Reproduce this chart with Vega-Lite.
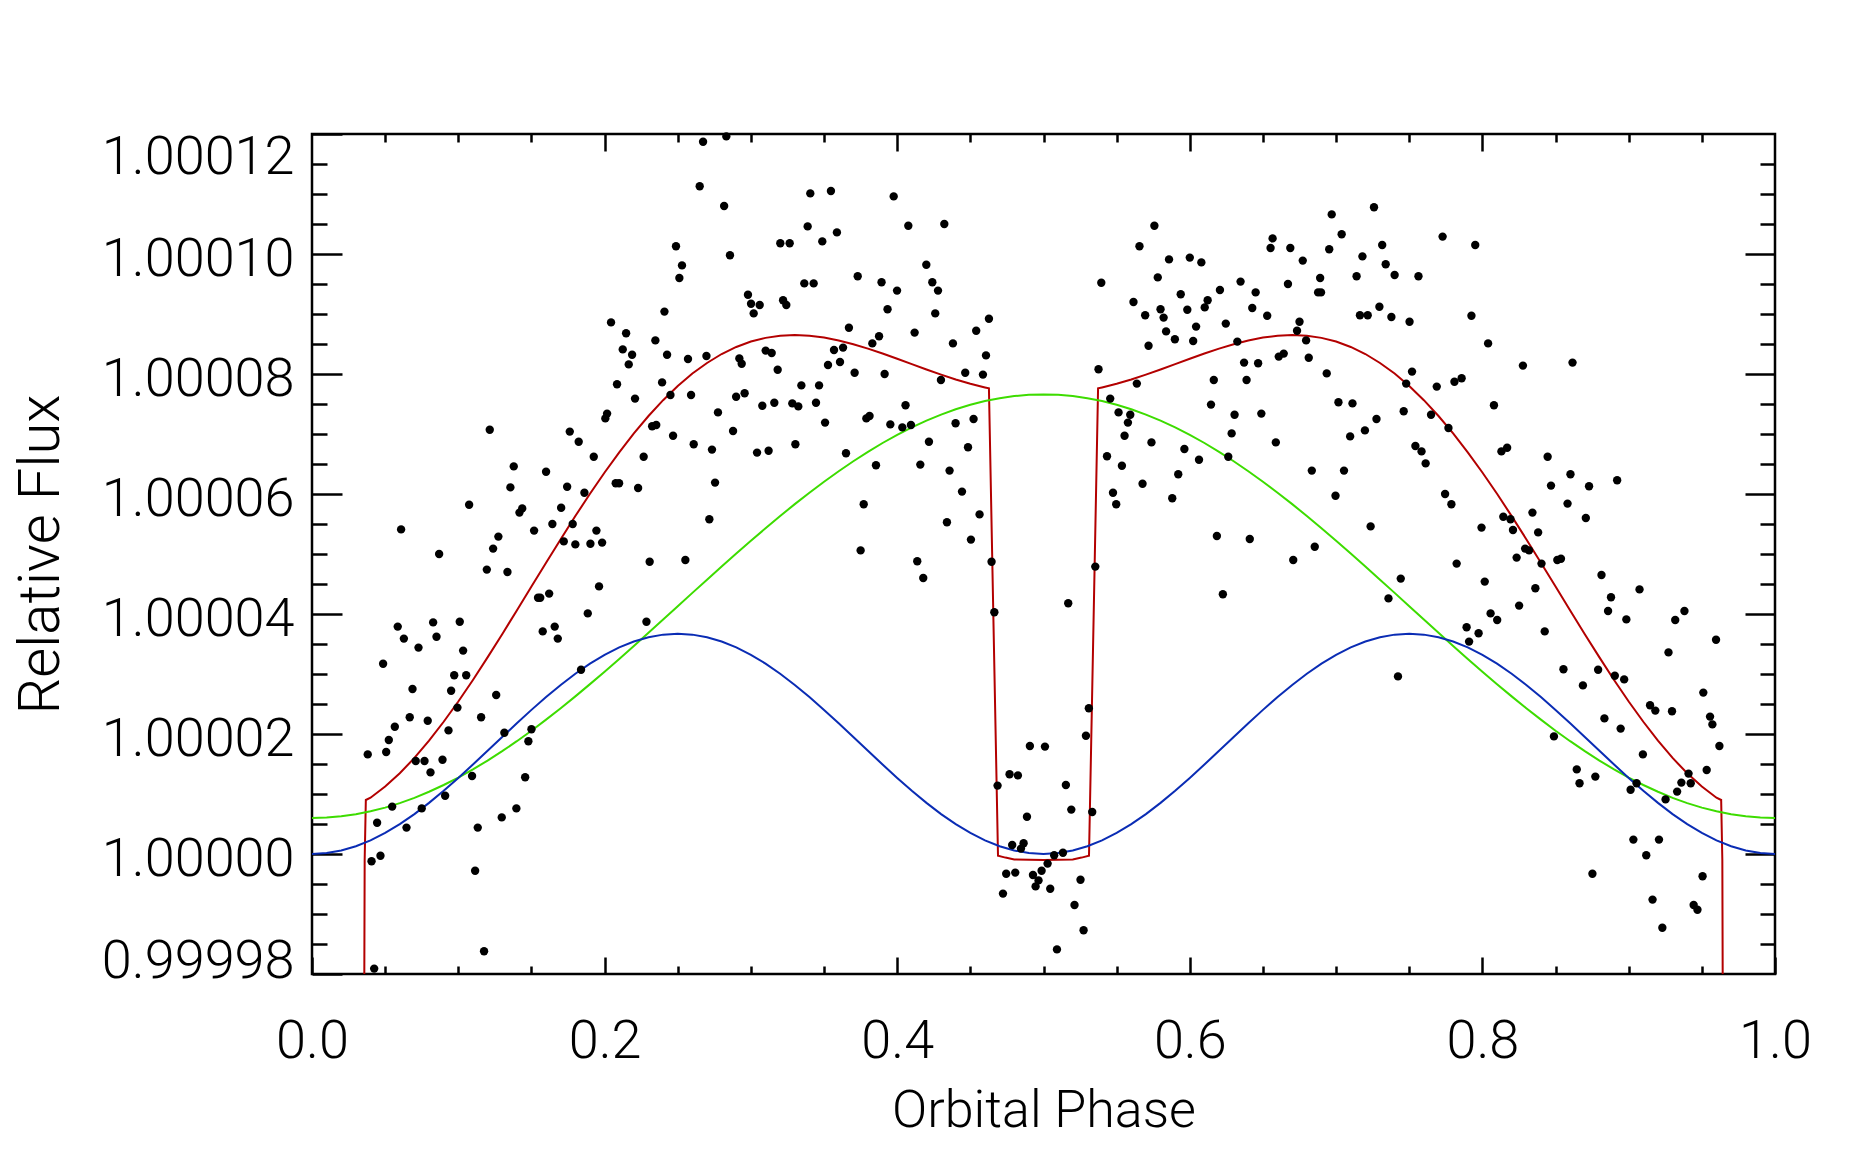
{
"$schema": "https://vega.github.io/schema/vega-lite/v6.json",
"width": 1463,
"height": 840,
"autosize": {"type": "none"},
"padding": {"left": 312, "top": 134, "right": 83, "bottom": 180},
"background": "white",
"config": {
  "view": {"stroke": "black", "strokeWidth": 2.5},
  "axis": {"domain": false, "grid": false, "tickColor": "black", "tickWidth": 2.5, "labelColor": "black", "labelFont": "Roboto", "labelFontWeight": 300, "labelFontSize": 54, "labelLimit": 0, "titleFont": "Roboto", "titleFontWeight": 300, "titleColor": "black", "titleLimit": 0}
},
"datasets": {
"pts": [
{"phase":0.1215,"flux":1.0000707},{"phase":0.1379,"flux":1.0000646},{"phase":0.1356,"flux":1.0000611},{"phase":0.16,"flux":1.0000637},{"phase":0.1744,"flux":1.0000612},{"phase":0.1762,"flux":1.0000704},{"phase":0.1823,"flux":1.0000687},{"phase":0.1926,"flux":1.0000662},{"phase":0.1862,"flux":1.0000602},{"phase":0.2044,"flux":1.0000886},{"phase":0.2147,"flux":1.0000868},{"phase":0.2124,"flux":1.0000841},{"phase":0.2188,"flux":1.0000832},{"phase":0.2165,"flux":1.0000816},{"phase":0.2085,"flux":1.0000783},{"phase":0.2208,"flux":1.0000759},{"phase":0.2017,"flux":1.0000734},{"phase":0.2005,"flux":1.0000726},{"phase":0.2076,"flux":1.0000618},{"phase":0.2099,"flux":1.0000618},{"phase":0.2229,"flux":1.000061},{"phase":0.2267,"flux":1.0000662},{"phase":0.2347,"flux":1.0000856},{"phase":0.2409,"flux":1.0000904},{"phase":0.2488,"flux":1.0001013},{"phase":0.2529,"flux":1.0000981},{"phase":0.2511,"flux":1.000096},{"phase":0.2427,"flux":1.0000832},{"phase":0.2393,"flux":1.0000786},{"phase":0.245,"flux":1.0000765},{"phase":0.257,"flux":1.0000825},{"phase":0.2591,"flux":1.0000765},{"phase":0.2325,"flux":1.0000713},{"phase":0.2353,"flux":1.0000715},{"phase":0.2468,"flux":1.0000697},{"phase":0.2609,"flux":1.0000683},{"phase":0.265,"flux":1.0001113},
{"phase":0.1074,"flux":1.0000582},{"phase":0.0609,"flux":1.0000541},{"phase":0.0869,"flux":1.00005},{"phase":0.1418,"flux":1.0000569},{"phase":0.1437,"flux":1.0000576},{"phase":0.1518,"flux":1.0000539},{"phase":0.1643,"flux":1.000055},{"phase":0.1703,"flux":1.0000577},{"phase":0.1782,"flux":1.000055},{"phase":0.1721,"flux":1.0000521},{"phase":0.18,"flux":1.0000516},{"phase":0.1903,"flux":1.0000517},{"phase":0.1944,"flux":1.0000539},{"phase":0.1983,"flux":1.0000519},{"phase":0.1962,"flux":1.0000446},{"phase":0.1885,"flux":1.0000401},{"phase":0.2308,"flux":1.0000487},{"phase":0.2552,"flux":1.000049},{"phase":0.2286,"flux":1.0000387},{"phase":0.1839,"flux":1.0000307},{"phase":0.1621,"flux":1.0000434},{"phase":0.1545,"flux":1.0000427},{"phase":0.156,"flux":1.0000427},{"phase":0.1577,"flux":1.0000371},{"phase":0.1659,"flux":1.0000379},{"phase":0.168,"flux":1.0000359},{"phase":0.1274,"flux":1.0000529},{"phase":0.1238,"flux":1.0000509},{"phase":0.1195,"flux":1.0000474},{"phase":0.1336,"flux":1.000047},{"phase":0.0586,"flux":1.0000379},{"phase":0.0628,"flux":1.0000359},{"phase":0.0486,"flux":1.0000317},{"phase":0.0728,"flux":1.0000344},{"phase":0.0828,"flux":1.0000386},{"phase":0.0851,"flux":1.0000362},{"phase":0.101,"flux":1.0000387},{"phase":0.1033,"flux":1.0000339},{"phase":0.0972,"flux":1.0000298},{"phase":0.1054,"flux":1.0000298},{"phase":0.0951,"flux":1.0000272},{"phase":0.0687,"flux":1.0000275},{"phase":0.0994,"flux":1.0000244},{"phase":0.0668,"flux":1.0000228},{"phase":0.0791,"flux":1.0000222},{"phase":0.0566,"flux":1.0000212},{"phase":0.0525,"flux":1.000019},{"phase":0.0507,"flux":1.000017},{"phase":0.0381,"flux":1.0000166},{"phase":0.0709,"flux":1.0000155},{"phase":0.0769,"flux":1.0000155},{"phase":0.081,"flux":1.0000136},{"phase":0.0892,"flux":1.0000157},{"phase":0.0933,"flux":1.0000206},{"phase":0.1156,"flux":1.0000228},{"phase":0.1259,"flux":1.0000265},{"phase":0.1315,"flux":1.0000202},{"phase":0.15,"flux":1.0000208},{"phase":0.1479,"flux":1.0000188},{"phase":0.1457,"flux":1.0000128},{"phase":0.1397,"flux":1.0000076},{"phase":0.1297,"flux":1.0000061},{"phase":0.1133,"flux":1.0000044},{"phase":0.1094,"flux":1.000013},{"phase":0.1115,"flux":0.9999972},{"phase":0.1176,"flux":0.9999838},{"phase":0.091,"flux":1.0000097},{"phase":0.075,"flux":1.0000076},{"phase":0.0548,"flux":1.0000079},{"phase":0.0646,"flux":1.0000044},{"phase":0.0445,"flux":1.0000052},{"phase":0.0407,"flux":0.9999988},{"phase":0.0468,"flux":0.9999997},{"phase":0.0425,"flux":0.9999809},
{"phase":0.2673,"flux":1.0001187},{"phase":0.2832,"flux":1.0001196},{"phase":0.2817,"flux":1.000108},{"phase":0.2857,"flux":1.0000998},{"phase":0.3406,"flux":1.0001101},{"phase":0.3547,"flux":1.0001105},{"phase":0.3976,"flux":1.0001096},{"phase":0.3388,"flux":1.0001046},{"phase":0.3588,"flux":1.0001036},{"phase":0.3201,"flux":1.0001018},{"phase":0.3265,"flux":1.0001018},{"phase":0.3488,"flux":1.0001021},{"phase":0.4076,"flux":1.0001047},{"phase":0.4322,"flux":1.000105},{"phase":0.4199,"flux":1.0000982},{"phase":0.373,"flux":1.0000963},{"phase":0.3893,"flux":1.0000953},{"phase":0.3999,"flux":1.0000939},{"phase":0.3365,"flux":1.0000951},{"phase":0.3429,"flux":1.0000951},{"phase":0.298,"flux":1.0000932},{"phase":0.3001,"flux":1.0000917},{"phase":0.306,"flux":1.0000915},{"phase":0.3019,"flux":1.0000901},{"phase":0.322,"flux":1.0000923},{"phase":0.3242,"flux":1.0000915},{"phase":0.3934,"flux":1.0000908},{"phase":0.424,"flux":1.0000953},{"phase":0.4279,"flux":1.0000939},{"phase":0.426,"flux":1.0000901},{"phase":0.367,"flux":1.0000877},{"phase":0.3876,"flux":1.0000863},{"phase":0.383,"flux":1.0000851},{"phase":0.4119,"flux":1.0000869},{"phase":0.4381,"flux":1.0000851},{"phase":0.454,"flux":1.0000872},{"phase":0.4627,"flux":1.0000892},{"phase":0.4607,"flux":1.0000831},{"phase":0.4586,"flux":1.0000799},{"phase":0.4465,"flux":1.0000802},{"phase":0.4299,"flux":1.000079},{"phase":0.3914,"flux":1.00008},{"phase":0.3709,"flux":1.0000802},{"phase":0.3568,"flux":1.000084},{"phase":0.363,"flux":1.0000844},{"phase":0.3527,"flux":1.0000815},{"phase":0.3609,"flux":1.000082},{"phase":0.3101,"flux":1.0000839},{"phase":0.3142,"flux":1.0000835},{"phase":0.3183,"flux":1.0000807},{"phase":0.2921,"flux":1.0000826},{"phase":0.2937,"flux":1.0000817},{"phase":0.2696,"flux":1.000083},{"phase":0.3345,"flux":1.0000781},{"phase":0.3466,"flux":1.0000781},{"phase":0.2899,"flux":1.0000762},{"phase":0.2957,"flux":1.0000768},{"phase":0.3078,"flux":1.0000747},{"phase":0.316,"flux":1.0000752},{"phase":0.3283,"flux":1.0000751},{"phase":0.3324,"flux":1.0000746},{"phase":0.3445,"flux":1.0000752},{"phase":0.2775,"flux":1.0000736},{"phase":0.2878,"flux":1.0000705},{"phase":0.3507,"flux":1.0000719},{"phase":0.3789,"flux":1.0000726},{"phase":0.3811,"flux":1.000073},{"phase":0.3953,"flux":1.0000716},{"phase":0.4035,"flux":1.0000711},{"phase":0.4094,"flux":1.0000715},{"phase":0.4057,"flux":1.0000748},{"phase":0.4399,"flux":1.0000718},{"phase":0.4522,"flux":1.0000725},{"phase":0.4217,"flux":1.0000687},{"phase":0.2734,"flux":1.0000674},{"phase":0.3042,"flux":1.0000669},{"phase":0.3121,"flux":1.0000672},{"phase":0.3304,"flux":1.0000683},{"phase":0.365,"flux":1.0000668},{"phase":0.3855,"flux":1.0000648},{"phase":0.4158,"flux":1.0000649},{"phase":0.4358,"flux":1.0000639},{"phase":0.4484,"flux":1.0000678},{"phase":0.2755,"flux":1.0000619},{"phase":0.4443,"flux":1.0000604},{"phase":0.5395,"flux":1.0000952},{"phase":0.5376,"flux":1.0000808},{"phase":0.5456,"flux":1.0000759},{"phase":0.5513,"flux":1.0000736},{"phase":0.5593,"flux":1.0000732},{"phase":0.5577,"flux":1.0000719},{"phase":0.5554,"flux":1.0000697},{"phase":0.5615,"flux":1.000092},{"phase":0.5656,"flux":1.0001013},{"phase":0.5695,"flux":1.0000898},{"phase":0.5718,"flux":1.0000847},{"phase":0.5638,"flux":1.0000784},{"phase":0.5434,"flux":1.0000663},{"phase":0.5536,"flux":1.0000647},{"phase":0.5475,"flux":1.0000602},{"phase":0.5677,"flux":1.0000617},
{"phase":0.2716,"flux":1.0000558},{"phase":0.3771,"flux":1.0000583},{"phase":0.375,"flux":1.0000506},{"phase":0.434,"flux":1.0000553},{"phase":0.4563,"flux":1.0000566},{"phase":0.4504,"flux":1.0000524},{"phase":0.4137,"flux":1.0000488},{"phase":0.4178,"flux":1.000046},{"phase":0.4645,"flux":1.0000487},{"phase":0.4664,"flux":1.0000403},{"phase":0.5354,"flux":1.0000479},{"phase":0.5169,"flux":1.0000418},{"phase":0.5497,"flux":1.0000583},{"phase":0.531,"flux":1.0000243},{"phase":0.529,"flux":1.0000197},{"phase":0.4907,"flux":1.000018},{"phase":0.501,"flux":1.0000179},{"phase":0.4768,"flux":1.0000133},{"phase":0.4825,"flux":1.0000131},{"phase":0.4686,"flux":1.0000114},{"phase":0.5153,"flux":1.0000115},{"phase":0.4887,"flux":1.0000062},{"phase":0.519,"flux":1.0000074},{"phase":0.5333,"flux":1.000007},{"phase":0.4786,"flux":1.0000015},{"phase":0.4864,"flux":1.0000018},{"phase":0.4846,"flux":1.0000009},{"phase":0.5073,"flux":0.9999998},{"phase":0.5133,"flux":1.0000002},{"phase":0.5028,"flux":0.9999984},{"phase":0.4745,"flux":0.9999967},{"phase":0.4807,"flux":0.9999969},{"phase":0.4928,"flux":0.9999965},{"phase":0.4987,"flux":0.9999972},{"phase":0.4966,"flux":0.9999956},{"phase":0.4946,"flux":0.9999946},{"phase":0.5046,"flux":0.9999942},{"phase":0.5253,"flux":0.9999957},{"phase":0.4723,"flux":0.9999934},{"phase":0.5212,"flux":0.9999915},{"phase":0.5274,"flux":0.9999873},{"phase":0.5092,"flux":0.9999841},
{"phase":0.5758,"flux":1.0001047},{"phase":0.5781,"flux":1.0000961},{"phase":0.5858,"flux":1.0000991},{"phase":0.58,"flux":1.0000908},{"phase":0.5821,"flux":1.0000894},{"phase":0.5838,"flux":1.0000871},{"phase":0.5898,"flux":1.0000858},{"phase":0.6,"flux":1.0000994},{"phase":0.6079,"flux":1.0000986},{"phase":0.5938,"flux":1.0000933},{"phase":0.5983,"flux":1.0000907},{"phase":0.6023,"flux":1.0000855},{"phase":0.6043,"flux":1.0000879},{"phase":0.6102,"flux":1.0000911},{"phase":0.6122,"flux":1.0000923},{"phase":0.6206,"flux":1.000094},{"phase":0.6246,"flux":1.0000884},{"phase":0.6347,"flux":1.0000954},{"phase":0.6325,"flux":1.0000854},{"phase":0.645,"flux":1.0000936},{"phase":0.6427,"flux":1.000091},{"phase":0.6529,"flux":1.0000897},{"phase":0.6371,"flux":1.0000819},{"phase":0.6467,"flux":1.0000818},{"phase":0.6388,"flux":1.000079},{"phase":0.6552,"flux":1.000101},{"phase":0.6566,"flux":1.0001026},{"phase":0.6687,"flux":1.000101},{"phase":0.6772,"flux":1.0000989},{"phase":0.6671,"flux":1.000095},{"phase":0.675,"flux":1.0000887},{"phase":0.6733,"flux":1.0000872},{"phase":0.6795,"flux":1.0000856},{"phase":0.6813,"flux":1.0000827},{"phase":0.6642,"flux":1.0000834},{"phase":0.6608,"flux":1.0000829},{"phase":0.6891,"flux":1.000096},{"phase":0.6897,"flux":1.0000936},{"phase":0.6877,"flux":1.0000936},{"phase":0.6953,"flux":1.0001008},{"phase":0.697,"flux":1.0001066},{"phase":0.7038,"flux":1.0001033},{"phase":0.714,"flux":1.0000963},{"phase":0.718,"flux":1.0000996},{"phase":0.7259,"flux":1.0001078},{"phase":0.7315,"flux":1.0001015},{"phase":0.7339,"flux":1.0000983},{"phase":0.74,"flux":1.0000965},{"phase":0.7563,"flux":1.0000963},{"phase":0.7163,"flux":1.0000898},{"phase":0.7216,"flux":1.0000898},{"phase":0.7296,"flux":1.0000912},{"phase":0.7378,"flux":1.0000895},{"phase":0.7502,"flux":1.0000887},{"phase":0.7728,"flux":1.0001029},{"phase":0.7951,"flux":1.0001015},{"phase":0.7925,"flux":1.0000897},{"phase":0.8039,"flux":1.0000851},{"phase":0.8277,"flux":1.0000814},{"phase":0.8616,"flux":1.0000819},{"phase":0.6164,"flux":1.000079},{"phase":0.5738,"flux":1.0000686},{"phase":0.5963,"flux":1.0000675},{"phase":0.6063,"flux":1.0000657},{"phase":0.5921,"flux":1.0000633},{"phase":0.588,"flux":1.0000593},{"phase":0.6145,"flux":1.0000749},{"phase":0.6306,"flux":1.0000732},{"phase":0.6286,"flux":1.0000701},{"phase":0.6263,"flux":1.0000662},{"phase":0.6489,"flux":1.0000734},{"phase":0.6588,"flux":1.0000686},{"phase":0.6936,"flux":1.0000801},{"phase":0.7016,"flux":1.0000753},{"phase":0.7112,"flux":1.0000751},{"phase":0.7096,"flux":1.0000696},{"phase":0.7197,"flux":1.0000706},{"phase":0.7276,"flux":1.0000725},{"phase":0.7462,"flux":1.0000738},{"phase":0.7519,"flux":1.0000804},{"phase":0.7479,"flux":1.0000784},{"phase":0.7688,"flux":1.0000779},{"phase":0.7809,"flux":1.0000787},{"phase":0.7858,"flux":1.0000793},{"phase":0.7649,"flux":1.0000732},{"phase":0.7768,"flux":1.000071},{"phase":0.7542,"flux":1.000068},{"phase":0.7584,"flux":1.0000671},{"phase":0.7612,"flux":1.0000651},{"phase":0.8079,"flux":1.0000748},{"phase":0.813,"flux":1.0000671},{"phase":0.8169,"flux":1.0000677},{"phase":0.8446,"flux":1.0000662},{"phase":0.8602,"flux":1.0000633},{"phase":0.8729,"flux":1.0000613},{"phase":0.8469,"flux":1.0000614},{"phase":0.8921,"flux":1.0000623},{"phase":0.6834,"flux":1.0000639},{"phase":0.7054,"flux":1.0000639},{"phase":0.6996,"flux":1.0000597},{"phase":0.7745,"flux":1.00006},
{"phase":0.6185,"flux":1.000053},{"phase":0.641,"flux":1.0000525},{"phase":0.6226,"flux":1.0000433},{"phase":0.6707,"flux":1.000049},{"phase":0.6854,"flux":1.0000512},{"phase":0.7236,"flux":1.0000546},{"phase":0.7442,"flux":1.0000459},{"phase":0.7358,"flux":1.0000426},{"phase":0.7423,"flux":1.0000296},{"phase":0.7788,"flux":1.0000583},{"phase":0.7824,"flux":1.0000484},{"phase":0.7994,"flux":1.0000544},{"phase":0.8016,"flux":1.0000454},{"phase":0.7892,"flux":1.0000378},{"phase":0.7974,"flux":1.0000368},{"phase":0.7909,"flux":1.0000354},{"phase":0.8056,"flux":1.0000401},{"phase":0.8101,"flux":1.000039},{"phase":0.8143,"flux":1.0000562},{"phase":0.8192,"flux":1.0000558},{"phase":0.8209,"flux":1.000054},{"phase":0.8234,"flux":1.0000494},{"phase":0.8292,"flux":1.0000509},{"phase":0.8319,"flux":1.0000506},{"phase":0.8342,"flux":1.0000569},{"phase":0.8381,"flux":1.0000536},{"phase":0.8404,"flux":1.0000484},{"phase":0.8362,"flux":1.0000443},{"phase":0.8251,"flux":1.0000414},{"phase":0.8582,"flux":1.0000584},{"phase":0.8707,"flux":1.000056},{"phase":0.8512,"flux":1.000049},{"phase":0.8537,"flux":1.0000492},{"phase":0.8426,"flux":1.0000371},{"phase":0.8554,"flux":1.0000308},{"phase":0.8814,"flux":1.0000465},{"phase":0.8879,"flux":1.0000428},{"phase":0.8859,"flux":1.0000405},{"phase":0.8984,"flux":1.0000391},{"phase":0.9074,"flux":1.0000441},{"phase":0.8791,"flux":1.0000307},{"phase":0.8905,"flux":1.0000297},{"phase":0.8969,"flux":1.0000291},{"phase":0.8687,"flux":1.0000281},{"phase":0.9272,"flux":1.0000336},{"phase":0.9318,"flux":1.000039},{"phase":0.9381,"flux":1.0000405},{"phase":0.9597,"flux":1.0000357},{"phase":0.951,"flux":1.0000269},{"phase":0.9556,"flux":1.0000229},{"phase":0.9572,"flux":1.0000216},{"phase":0.962,"flux":1.000018},{"phase":0.9146,"flux":1.0000248},{"phase":0.9182,"flux":1.0000239},{"phase":0.9296,"flux":1.0000238},{"phase":0.8834,"flux":1.0000226},{"phase":0.8945,"flux":1.0000209},{"phase":0.8489,"flux":1.0000196},{"phase":0.9097,"flux":1.0000166},{"phase":0.8645,"flux":1.0000141},{"phase":0.8664,"flux":1.0000118},{"phase":0.8772,"flux":1.0000129},{"phase":0.9013,"flux":1.0000107},{"phase":0.9054,"flux":1.0000118},{"phase":0.9409,"flux":1.0000134},{"phase":0.936,"flux":1.0000119},{"phase":0.9424,"flux":1.0000118},{"phase":0.9331,"flux":1.0000104},{"phase":0.9533,"flux":1.000014},{"phase":0.9252,"flux":1.0000091},{"phase":0.9032,"flux":1.0000024},{"phase":0.9207,"flux":1.0000024},{"phase":0.912,"flux":0.9999998},{"phase":0.8752,"flux":0.9999967},{"phase":0.9505,"flux":0.9999963},{"phase":0.9163,"flux":0.9999924},{"phase":0.9444,"flux":0.9999915},{"phase":0.947,"flux":0.9999907},{"phase":0.923,"flux":0.9999877}
],
"models": [
{"phase":0,"blue":1,"green":1.000006},{"phase":0.01,"blue":1.00000015,"green":1.00000607},{"phase":0.02,"blue":1.00000058,"green":1.00000628},{"phase":0.03,"blue":1.00000129,"green":1.00000663},{"phase":0.04,"blue":1.00000227,"green":1.00000711},{"phase":0.05,"blue":1.00000351,"green":1.00000773},{"phase":0.06,"blue":1.00000497,"green":1.00000848},{"phase":0.07,"blue":1.00000665,"green":1.00000936},{"phase":0.08,"blue":1.00000852,"green":1.00001037},{"phase":0.09,"blue":1.00001054,"green":1.0000115},{"phase":0.1,"blue":1.00001268,"green":1.00001274},{"phase":0.11,"blue":1.00001491,"green":1.0000141},{"phase":0.12,"blue":1.0000172,"green":1.00001557},{"phase":0.13,"blue":1.0000195,"green":1.00001714},{"phase":0.14,"blue":1.00002179,"green":1.0000188},{"phase":0.15,"blue":1.00002402,"green":1.00002055},{"phase":0.16,"blue":1.00002616,"green":1.00002239},{"phase":0.17,"blue":1.00002818,"green":1.00002429},{"phase":0.18,"blue":1.00003005,"green":1.00002627},{"phase":0.19,"blue":1.00003173,"green":1.00002831},{"phase":0.2,"blue":1.0000332,"green":1.00003039},{"phase":0.21,"blue":1.00003443,"green":1.00003252},{"phase":0.22,"blue":1.00003541,"green":1.00003468},{"phase":0.23,"blue":1.00003612,"green":1.00003688},{"phase":0.24,"blue":1.00003656,"green":1.00003908},{"phase":0.25,"blue":1.0000367,"green":1.0000413},{"phase":0.26,"blue":1.00003656,"green":1.00004352},{"phase":0.27,"blue":1.00003612,"green":1.00004572},{"phase":0.28,"blue":1.00003541,"green":1.00004792},{"phase":0.29,"blue":1.00003443,"green":1.00005008},{"phase":0.3,"blue":1.0000332,"green":1.00005221},{"phase":0.31,"blue":1.00003173,"green":1.00005429},{"phase":0.32,"blue":1.00003005,"green":1.00005633},{"phase":0.33,"blue":1.00002818,"green":1.00005831},{"phase":0.34,"blue":1.00002616,"green":1.00006021},{"phase":0.35,"blue":1.00002402,"green":1.00006205},{"phase":0.36,"blue":1.00002179,"green":1.0000638},{"phase":0.37,"blue":1.0000195,"green":1.00006546},{"phase":0.38,"blue":1.0000172,"green":1.00006703},{"phase":0.39,"blue":1.00001491,"green":1.0000685},{"phase":0.4,"blue":1.00001268,"green":1.00006986},{"phase":0.41,"blue":1.00001054,"green":1.0000711},{"phase":0.42,"blue":1.00000852,"green":1.00007223},{"phase":0.43,"blue":1.00000665,"green":1.00007324},{"phase":0.44,"blue":1.00000497,"green":1.00007412},{"phase":0.45,"blue":1.00000351,"green":1.00007487},{"phase":0.46,"blue":1.00000227,"green":1.00007549},{"phase":0.47,"blue":1.00000129,"green":1.00007597},{"phase":0.48,"blue":1.00000058,"green":1.00007632},{"phase":0.49,"blue":1.00000015,"green":1.00007653},{"phase":0.5,"blue":1,"green":1.0000766},
{"phase":0.51,"blue":1.00000015,"green":1.00007653},{"phase":0.52,"blue":1.00000058,"green":1.00007632},{"phase":0.53,"blue":1.00000129,"green":1.00007597},{"phase":0.54,"blue":1.00000227,"green":1.00007549},{"phase":0.55,"blue":1.00000351,"green":1.00007487},{"phase":0.56,"blue":1.00000497,"green":1.00007412},{"phase":0.57,"blue":1.00000665,"green":1.00007324},{"phase":0.58,"blue":1.00000852,"green":1.00007223},{"phase":0.59,"blue":1.00001054,"green":1.0000711},{"phase":0.6,"blue":1.00001268,"green":1.00006986},{"phase":0.61,"blue":1.00001491,"green":1.0000685},{"phase":0.62,"blue":1.0000172,"green":1.00006703},{"phase":0.63,"blue":1.0000195,"green":1.00006546},{"phase":0.64,"blue":1.00002179,"green":1.0000638},{"phase":0.65,"blue":1.00002402,"green":1.00006205},{"phase":0.66,"blue":1.00002616,"green":1.00006021},{"phase":0.67,"blue":1.00002818,"green":1.00005831},{"phase":0.68,"blue":1.00003005,"green":1.00005633},{"phase":0.69,"blue":1.00003173,"green":1.00005429},{"phase":0.7,"blue":1.0000332,"green":1.00005221},{"phase":0.71,"blue":1.00003443,"green":1.00005008},{"phase":0.72,"blue":1.00003541,"green":1.00004792},{"phase":0.73,"blue":1.00003612,"green":1.00004572},{"phase":0.74,"blue":1.00003656,"green":1.00004352},{"phase":0.75,"blue":1.0000367,"green":1.0000413},{"phase":0.76,"blue":1.00003656,"green":1.00003908},{"phase":0.77,"blue":1.00003612,"green":1.00003688},{"phase":0.78,"blue":1.00003541,"green":1.00003468},{"phase":0.79,"blue":1.00003443,"green":1.00003252},{"phase":0.8,"blue":1.0000332,"green":1.00003039},{"phase":0.81,"blue":1.00003173,"green":1.00002831},{"phase":0.82,"blue":1.00003005,"green":1.00002627},{"phase":0.83,"blue":1.00002818,"green":1.00002429},{"phase":0.84,"blue":1.00002616,"green":1.00002239},{"phase":0.85,"blue":1.00002402,"green":1.00002055},{"phase":0.86,"blue":1.00002179,"green":1.0000188},{"phase":0.87,"blue":1.0000195,"green":1.00001714},{"phase":0.88,"blue":1.0000172,"green":1.00001557},{"phase":0.89,"blue":1.00001491,"green":1.0000141},{"phase":0.9,"blue":1.00001268,"green":1.00001274},{"phase":0.91,"blue":1.00001054,"green":1.0000115},{"phase":0.92,"blue":1.00000852,"green":1.00001037},{"phase":0.93,"blue":1.00000665,"green":1.00000936},{"phase":0.94,"blue":1.00000497,"green":1.00000848},{"phase":0.95,"blue":1.00000351,"green":1.00000773},{"phase":0.96,"blue":1.00000227,"green":1.00000711},{"phase":0.97,"blue":1.00000129,"green":1.00000663},{"phase":0.98,"blue":1.00000058,"green":1.00000628},{"phase":0.99,"blue":1.00000015,"green":1.00000607},{"phase":1,"blue":1,"green":1.000006}
],
"red": [
{"phase":0.0355,"flux":0.99996},{"phase":0.036,"flux":0.999999},{"phase":0.0368,"flux":1.000009},{"phase":0.04,"flux":1.00000938},{"phase":0.05,"flux":1.00001124},{"phase":0.06,"flux":1.00001345},{"phase":0.07,"flux":1.00001601},{"phase":0.08,"flux":1.00001889},{"phase":0.09,"flux":1.00002204},{"phase":0.1,"flux":1.00002542},{"phase":0.11,"flux":1.00002901},{"phase":0.12,"flux":1.00003277},{"phase":0.13,"flux":1.00003664},{"phase":0.14,"flux":1.00004059},{"phase":0.15,"flux":1.00004457},{"phase":0.16,"flux":1.00004855},{"phase":0.17,"flux":1.00005247},{"phase":0.18,"flux":1.00005632},{"phase":0.19,"flux":1.00006004},{"phase":0.2,"flux":1.00006359},{"phase":0.21,"flux":1.00006695},{"phase":0.22,"flux":1.00007009},{"phase":0.23,"flux":1.000073},{"phase":0.24,"flux":1.00007564},{"phase":0.25,"flux":1.000078},{"phase":0.26,"flux":1.00008008},{"phase":0.27,"flux":1.00008184},{"phase":0.28,"flux":1.00008333},{"phase":0.29,"flux":1.00008451},{"phase":0.3,"flux":1.00008541},{"phase":0.31,"flux":1.00008602},{"phase":0.32,"flux":1.00008638},{"phase":0.33,"flux":1.00008649},{"phase":0.34,"flux":1.00008637},{"phase":0.35,"flux":1.00008607},{"phase":0.36,"flux":1.00008559},{"phase":0.37,"flux":1.00008496},{"phase":0.38,"flux":1.00008423},{"phase":0.39,"flux":1.00008341},{"phase":0.4,"flux":1.00008254},{"phase":0.41,"flux":1.00008164},{"phase":0.42,"flux":1.00008075},{"phase":0.43,"flux":1.00007989},{"phase":0.44,"flux":1.00007909},{"phase":0.45,"flux":1.00007838},{"phase":0.46,"flux":1.00007776},{"phase":0.4627,"flux":1.0000776},{"phase":0.4689,"flux":0.9999997},{"phase":0.474,"flux":0.9999994},{"phase":0.48,"flux":0.9999991},{"phase":0.5,"flux":0.999999},{"phase":0.52,"flux":0.9999991},{"phase":0.526,"flux":0.9999994},{"phase":0.5311,"flux":0.9999997},{"phase":0.5373,"flux":1.0000776},{"phase":0.54,"flux":1.00007776},{"phase":0.55,"flux":1.00007838},{"phase":0.56,"flux":1.00007909},{"phase":0.57,"flux":1.00007989},{"phase":0.58,"flux":1.00008075},{"phase":0.59,"flux":1.00008164},{"phase":0.6,"flux":1.00008254},{"phase":0.61,"flux":1.00008341},{"phase":0.62,"flux":1.00008423},{"phase":0.63,"flux":1.00008496},{"phase":0.64,"flux":1.00008559},{"phase":0.65,"flux":1.00008607},{"phase":0.66,"flux":1.00008637},{"phase":0.67,"flux":1.00008649},{"phase":0.68,"flux":1.00008638},{"phase":0.69,"flux":1.00008602},{"phase":0.7,"flux":1.00008541},{"phase":0.71,"flux":1.00008451},{"phase":0.72,"flux":1.00008333},{"phase":0.73,"flux":1.00008184},{"phase":0.74,"flux":1.00008008},{"phase":0.75,"flux":1.000078},{"phase":0.76,"flux":1.00007564},{"phase":0.77,"flux":1.000073},{"phase":0.78,"flux":1.00007009},{"phase":0.79,"flux":1.00006695},{"phase":0.8,"flux":1.00006359},{"phase":0.81,"flux":1.00006004},{"phase":0.82,"flux":1.00005632},{"phase":0.83,"flux":1.00005247},{"phase":0.84,"flux":1.00004855},{"phase":0.85,"flux":1.00004457},{"phase":0.86,"flux":1.00004059},{"phase":0.87,"flux":1.00003664},{"phase":0.88,"flux":1.00003277},{"phase":0.89,"flux":1.00002901},{"phase":0.9,"flux":1.00002542},{"phase":0.91,"flux":1.00002204},{"phase":0.92,"flux":1.00001889},{"phase":0.93,"flux":1.00001601},{"phase":0.94,"flux":1.00001345},{"phase":0.95,"flux":1.00001124},{"phase":0.96,"flux":1.00000938},{"phase":0.9632,"flux":1.000009},{"phase":0.964,"flux":0.999999},{"phase":0.9645,"flux":0.99996}
]
},
"layer": [
{
  "data": {"name": "red"},
  "mark": {"type": "line", "color": "#b30000", "strokeWidth": 2, "clip": true},
  "encoding": {
    "x": {"field": "phase", "type": "quantitative", "scale": {"domain": [0, 1], "nice": false, "zero": false},
      "axis": {"orient": "bottom", "values": [0, 0.2, 0.4, 0.6, 0.8, 1], "tickSize": -17, "labelPadding": 57, "format": ".1f", "labelFlush": false, "title": "Orbital Phase", "titleFontSize": 52, "titlePadding": 17}},
    "y": {"field": "flux", "type": "quantitative", "scale": {"domain": [0.99998, 1.00012], "nice": false, "zero": false},
      "axis": {"orient": "left", "values": [0.99998, 1, 1.00002, 1.00004, 1.00006, 1.00008, 1.0001, 1.00012], "tickSize": -30, "labelPadding": 48, "format": ".5f", "labelFlush": true, "labelFlushOffset": 9, "labelOffset": 5, "title": "Relative Flux", "titleFontSize": 58, "titlePadding": 42}}
  }
},
{
  "data": {"name": "models"},
  "mark": {"type": "line", "color": "#3ddc00", "strokeWidth": 2, "clip": true},
  "encoding": {
    "x": {"field": "phase", "type": "quantitative", "scale": {"domain": [0, 1], "nice": false, "zero": false},
      "axis": {"orient": "bottom", "values": [0.05, 0.1, 0.15, 0.25, 0.3, 0.35, 0.45, 0.5, 0.55, 0.65, 0.7, 0.75, 0.85, 0.9, 0.95], "tickSize": -8, "labels": false, "title": null}},
    "y": {"field": "green", "type": "quantitative", "scale": {"domain": [0.99998, 1.00012], "nice": false, "zero": false},
      "axis": {"orient": "left", "values": [0.999985, 0.99999, 0.999995, 1.000005, 1.00001, 1.000015, 1.000025, 1.00003, 1.000035, 1.000045, 1.00005, 1.000055, 1.000065, 1.00007, 1.000075, 1.000085, 1.00009, 1.000095, 1.000105, 1.00011, 1.000115], "tickSize": -15, "labels": false, "title": null}}
  }
},
{
  "data": {"name": "models"},
  "mark": {"type": "line", "color": "#0a2cb4", "strokeWidth": 2, "clip": true},
  "encoding": {
    "x": {"field": "phase", "type": "quantitative", "scale": {"domain": [0, 1], "nice": false, "zero": false},
      "axis": {"orient": "top", "values": [0.2, 0.4, 0.6, 0.8], "tickSize": -17, "labels": false, "title": null}},
    "y": {"field": "blue", "type": "quantitative", "scale": {"domain": [0.99998, 1.00012], "nice": false, "zero": false},
      "axis": {"orient": "right", "values": [1, 1.00002, 1.00004, 1.00006, 1.00008, 1.0001], "tickSize": -30, "labels": false, "title": null}}
  }
},
{
  "data": {"name": "pts"},
  "mark": {"type": "circle", "color": "black", "size": 70, "opacity": 1},
  "encoding": {
    "x": {"field": "phase", "type": "quantitative", "scale": {"domain": [0, 1], "nice": false, "zero": false},
      "axis": {"orient": "top", "values": [0.05, 0.1, 0.15, 0.25, 0.3, 0.35, 0.45, 0.5, 0.55, 0.65, 0.7, 0.75, 0.85, 0.9, 0.95], "tickSize": -8, "labels": false, "title": null}},
    "y": {"field": "flux", "type": "quantitative", "scale": {"domain": [0.99998, 1.00012], "nice": false, "zero": false},
      "axis": {"orient": "right", "values": [0.999985, 0.99999, 0.999995, 1.000005, 1.00001, 1.000015, 1.000025, 1.00003, 1.000035, 1.000045, 1.00005, 1.000055, 1.000065, 1.00007, 1.000075, 1.000085, 1.00009, 1.000095, 1.000105, 1.00011, 1.000115], "tickSize": -15, "labels": false, "title": null}}
  }
}
],
"resolve": {"axis": {"x": "independent", "y": "independent"}}
}
